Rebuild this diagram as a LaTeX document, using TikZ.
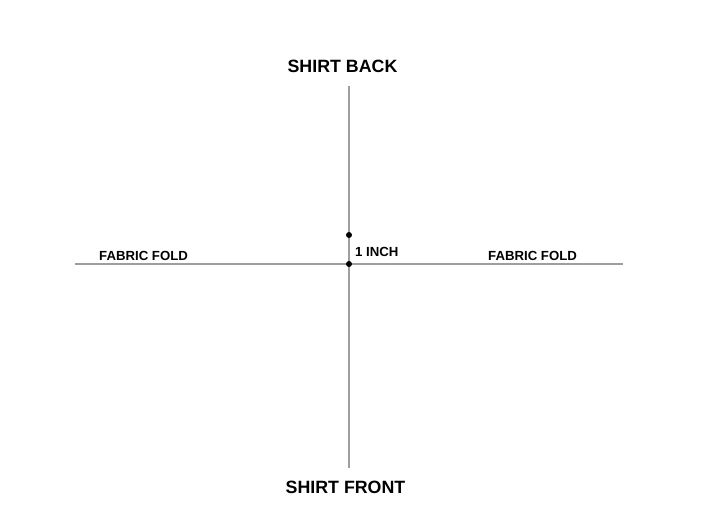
\documentclass[tikz,border=0pt]{standalone}
\usepackage{fontspec}
\setmainfont{Liberation Sans}
\tikzset{
  foldline/.style={draw=black!38, line width=1.6pt},
  big/.style={font=\bfseries\fontsize{17.8}{20}\selectfont, inner sep=0pt, anchor=base},
  small/.style={font=\bfseries\fontsize{13.2}{15}\selectfont, inner sep=0pt, anchor=base west},
  dot/.style={circle, fill=black, inner sep=0pt, minimum size=6pt}
}
\begin{document}
\begin{tikzpicture}[x=1pt,y=-1pt]
\useasboundingbox (0,0) rectangle (703,527);
\coordinate (top) at (349,86);
\coordinate (bot) at (349,468);
\coordinate (left) at (75,264);
\coordinate (right) at (623,264);
\draw[foldline] (top) -- (bot);
\draw[foldline] (left) -- (right);
\node[dot] (d1) at (349,235) {};
\node[dot] (d2) at (349,264) {};
\node[big] (back) at (342.5,72) {SHIRT BACK};
\node[big] (front) at (345.5,493) {SHIRT FRONT};
\node[small] (fl) at (99,260) {FABRIC FOLD};
\node[small] (fr) at (488,260) {FABRIC FOLD};
\node[small] (inch) at (355,256) {1 INCH};
\end{tikzpicture}
\end{document}
